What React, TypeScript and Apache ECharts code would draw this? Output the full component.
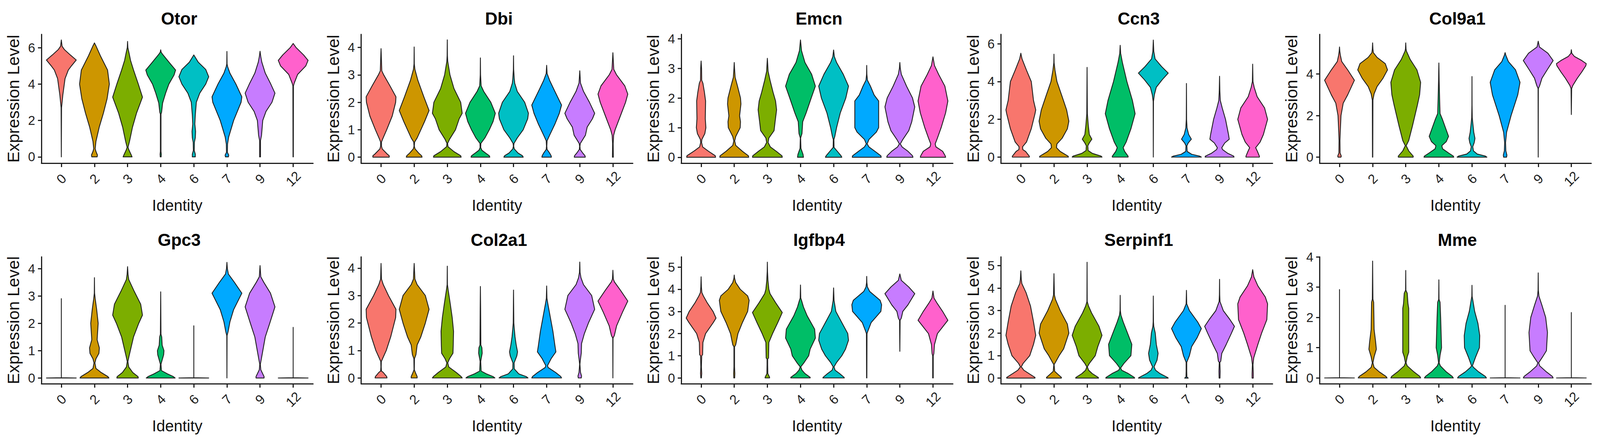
import React, { useEffect, useRef } from 'react';
import * as echarts from 'echarts';

const clusters = ['0', '2', '3', '4', '6', '7', '9', '12'];
const clusterColors = ['#F8766D', '#CD9600', '#7CAE00', '#00BE67', '#00BFC4', '#00A9FF', '#C77CFF', '#FF61CC'];
const clusterIdx = [0, 1, 2, 3, 4, 5, 6, 7];

// each violin: flat list of level, relative half width, bottom to top
const otor = [
  [0,0, 2.7,.015, 3.4,.1, 4,.2, 4.3,.25, 4.77,.47, 5.0,.68, 5.32,1, 5.6,.6, 5.9,.2, 6.08,.05, 6.42,0],
  [0,.18, .1,.2, .3,.1, .45,.05, .85,.1, 1.63,.32, 2.4,.6, 3.2,.85, 4,1, 4.77,.88, 5.55,.4, 6.1,.1, 6.26,0],
  [0,.3, .1,.25, .4,.08, .53,.03, .85,.13, 1.63,.33, 2.4,.6, 3.28,1, 4,.72, 4.77,.4, 5.3,.2, 5.7,.1, 6,.02, 6.34,0],
  [0,.03, .15,.04, .3,.02, 2.35,.02, 2.45,.06, 2.96,.13, 3.5,.33, 4,.55, 4.5,.9, 4.77,1, 5.16,.6, 5.63,.13, 5.75,.03, 5.88,0],
  [0,.1, .15,.1, .35,.03, .8,.04, 1.05,.1, 1.4,.12, 1.8,.07, 2.3,.1, 3,.17, 3.5,.4, 4,.8, 4.4,1, 4.8,.8, 5.2,.3, 5.6,0],
  [0,.1, .1,.12, .25,.03, .7,.04, 1.1,.12, 2,.45, 3,.95, 3.3,1, 4,.6, 4.6,.2, 4.95,.05, 5.1,.01, 5.79,0],
  [0,.03, .9,.03, 1.2,.1, 2,.18, 2.5,.4, 3,.8, 3.5,1, 4,.72, 4.6,.35, 5.2,.12, 5.5,.05, 5.8,0],
  [0,.01, 3.9,.02, 4.05,.07, 4.53,.3, 5,.85, 5.3,1, 5.6,.7, 6,.2, 6.23,0],
];
const dbi = [
  [0,.55, .05,.55, .12,.4, .3,.08, .4,.03, .55,.03, .65,.1, 1,.38, 1.5,.75, 2,.98, 2.2,1, 2.6,.6, 3,.18, 3.15,.05, 3.5,.03, 3.96,0],
  [0,.53, .05,.5, .15,.3, .3,.06, .4,.01, .55,.03, .7,.2, 1,.45, 1.3,.7, 1.7,1, 2.2,.65, 2.8,.25, 3.2,.05, 3.4,.01, 4.02,0],
  [0,.93, .05,.9, .2,.45, .38,.05, .5,.02, .65,.15, 1,.55, 1.4,.8, 1.6,1, 2,.9, 2.5,.45, 3,.18, 3.5,.03, 3.7,.01, 4.28,0],
  [0,.63, .05,.6, .15,.35, .25,.1, .35,.02, .5,.03, .7,.3, 1,.6, 1.3,.85, 1.6,1, 2,.7, 2.4,.22, 2.6,.05, 3,.01, 3.62,0],
  [0,.65, .05,.6, .15,.3, .3,.05, .4,.01, .5,.03, .7,.25, 1,.65, 1.4,.95, 1.6,1, 2,.75, 2.4,.25, 2.7,.08, 2.85,.05, 3.2,.01, 3.7,0],
  [0,.32, .05,.3, .15,.2, .28,.03, .4,.01, .6,.03, .8,.2, 1.2,.55, 1.6,.85, 1.9,1, 2.4,.55, 2.8,.2, 3.05,.03, 3.35,0],
  [0,.37, .05,.35, .15,.2, .28,.03, .4,.01, .5,.04, .8,.38, 1.1,.5, 1.4,.85, 1.6,1, 2,.65, 2.4,.25, 2.7,.05, 3.15,0],
  [0,.03, .5,.02, .8,.05, 1,.15, 1.5,.5, 2,.85, 2.3,1, 2.6,.8, 3,.25, 3.2,.06, 3.5,.03, 3.81,0],
];
const emcn = [
  [0,.97, .05,.95, .2,.5, .35,.1, .5,.03, .6,.05, .8,.25, 1,.32, 1.3,.28, 1.9,.3, 2.2,.22, 2.5,.12, 2.6,.04, 3,.03, 3.25,0],
  [0,.97, .05,.95, .2,.55, .4,.1, .55,.03, .7,.1, 1,.4, 1.2,.42, 1.4,.36, 1.8,.45, 2,.42, 2.4,.22, 2.7,.06, 3,.02, 3.2,0],
  [0,1, .05,.98, .2,.6, .35,.2, .5,.05, .65,.1, .9,.45, 1.2,.52, 1.6,.62, 1.9,.55, 2.2,.38, 2.6,.18, 2.9,.05, 3.34,0],
  [0,.2, .1,.17, .3,.03, .65,.01, .8,.1, 1.2,.15, 1.5,.38, 2,.72, 2.4,1, 2.8,.75, 3.2,.3, 3.6,.07, 3.96,0],
  [0,.55, .05,.5, .2,.25, .33,.03, .6,.02, .7,.08, 1,.2, 1.5,.45, 2,.82, 2.4,1, 2.8,.65, 3.2,.2, 3.4,.05, 3.62,0],
  [0,.97, .05,.95, .2,.55, .35,.15, .45,.03, .6,.15, .85,.65, 1,.8, 1.9,.8, 2.1,.5, 2.4,.25, 2.6,.05, 2.8,.01, 3.1,0],
  [0,.88, .05,.85, .2,.55, .35,.15, .45,.03, .6,.2, .9,.6, 1.2,.8, 1.7,1, 2,.85, 2.4,.45, 2.8,.1, 3,.03, 3.2,0],
  [0,.85, .05,.82, .2,.65, .35,.2, .45,.15, .65,.3, 1,.55, 1.5,.85, 1.9,1, 2.4,.8, 2.8,.38, 3.1,.1, 3.39,0],
];
const ccn3 = [
  [0,.57, .05,.57, .3,.32, .4,.13, .55,.12, .8,.38, 1.5,.7, 2.3,.95, 2.5,1, 3,.85, 4,.7, 4.6,.38, 5.2,.08, 5.5,0],
  [0,.97, .05,.95, .3,.42, .5,.17, .7,.2, 1,.55, 1.5,.9, 1.9,1, 2.5,.85, 3.2,.55, 4,.2, 4.6,.07, 5,.01, 5.45,0],
  [0,1, .05,.95, .2,.35, .35,.07, .6,.05, .75,.15, .95,.32, 1.2,.15, 1.7,.08, 2.3,.02, 4.75,0],
  [0,.53, .05,.53, .3,.3, .5,.2, .8,.4, 1.5,.72, 2.3,1, 3,.82, 4,.45, 5,.15, 5.5,.03, 5.92,0],
  [0,0, 2.95,.01, 3.3,.07, 3.7,.2, 4.1,.6, 4.45,1, 4.8,.55, 5.2,.12, 5.6,.03, 6.2,0],
  [0,1, .05,.9, .15,.35, .3,.05, .6,.03, .75,.12, .95,.33, 1.2,.15, 1.55,.04, 2,.01, 3.9,0],
  [0,.97, .05,.95, .2,.55, .4,.2, .5,.15, .75,.35, .95,.65, 1.2,.6, 2,.4, 2.6,.18, 3,.05, 3.5,.02, 4.28,0],
  [0,.45, .05,.45, .3,.32, .5,.2, .8,.5, 1.2,.72, 2,1, 2.6,.8, 3.2,.3, 3.7,.1, 4,.02, 4.92,0],
];
const col9a1 = [
  [0,.1, .05,.12, .2,.04, .8,.03, 1.2,.05, 2,.1, 2.6,.25, 3,.55, 3.7,1, 4.2,.55, 4.6,.15, 4.9,.06, 5.1,.02, 5.3,0],
  [0,.01, 2.75,.02, 3.05,.1, 3.4,.3, 3.8,.7, 4.2,1, 4.5,.85, 4.8,.3, 5.03,.05, 5.2,.02, 5.5,0],
  [0,.5, .05,.5, .3,.2, .55,.03, .8,.2, 1.5,.45, 2.5,.78, 3,.93, 3.6,1, 4.2,.75, 4.7,.3, 5.1,.05, 5.2,.02, 5.5,0],
  [0,1, .05,.97, .2,.65, .4,.25, .55,.2, .75,.5, 1,.65, 1.4,.45, 1.8,.25, 2.1,.08, 2.8,.05, 3.7,.02, 4.53,0],
  [0,1, .05,.9, .15,.35, .3,.1, .5,.05, .7,.15, .9,.2, 1.2,.12, 1.6,.06, 1.9,.02, 2.5,.005, 3.88,0],
  [0,.1, .1,.12, .3,.05, .7,.03, 1.2,.1, 2,.4, 3,.85, 3.6,1, 4.2,.7, 4.6,.22, 4.9,.05, 5.03,0],
  [0,0, 3.3,.01, 3.45,.1, 3.8,.25, 4.2,.6, 4.65,1, 5,.65, 5.3,.08, 5.58,0],
  [2.05,0, 3.3,.02, 3.45,.1, 3.8,.4, 4.1,.7, 4.4,.97, 4.5,1, 4.65,.7, 4.85,.2, 5,.03, 5.17,0],
];
const gpc3 = [
  [0,1, .01,0, 2.9,0],
  [0,.97, .05,.9, .2,.45, .35,.1, .55,.03, .7,.1, .9,.3, 1.1,.33, 1.4,.18, 2,.25, 2.5,.15, 2.9,.05, 3.1,.01, 3.67,0],
  [0,.72, .05,.7, .2,.35, .4,.08, .6,.02, .8,.1, 1.5,.4, 2,.75, 2.3,1, 2.7,.88, 3.2,.42, 3.6,.08, 3.8,.03, 4.07,0],
  [0,.97, .05,.85, .15,.45, .27,.05, .5,.02, .6,.07, .85,.2, 1,.22, 1.2,.1, 1.5,.07, 1.6,.02, 3.15,0],
  [0,1, .01,0, 1.91,0],
  [0,0, 1.55,.01, 1.7,.08, 2.05,.2, 2.5,.45, 3.1,1, 3.5,.5, 3.8,.1, 4,.03, 4.23,0],
  [0,.27, .05,.27, .3,.05, .5,.02, .8,.12, 1.5,.35, 2,.65, 2.6,1, 3.1,.7, 3.5,.25, 3.7,.05, 4.11,0],
  [0,1, .01,0, 1.85,0],
];
const col2a1 = [
  [0,.4, .05,.38, .2,.15, .25,.03, .4,.01, .6,.02, .7,.1, 1,.35, 1.5,.65, 2.2,.98, 2.5,1, 3,.5, 3.4,.15, 3.6,.03, 4.17,0],
  [0,.2, .05,.2, .2,.08, .3,.01, .7,.02, .85,.12, 1.2,.2, 1.5,.45, 2,.75, 2.5,1, 3,.75, 3.4,.2, 3.6,.05, 4.17,0],
  [0,1, .05,.93, .2,.6, .4,.1, .55,.03, .7,.15, .9,.38, 1.2,.4, 1.7,.42, 2.2,.33, 2.7,.2, 3.2,.06, 3.4,.01, 4.07,0],
  [0,.97, .05,.85, .15,.4, .25,.05, .6,.02, .7,.05, .9,.12, 1.1,.1, 1.2,.03, 2.5,.015, 3.33,0],
  [0,.97, .05,.85, .15,.35, .33,.05, .55,.04, .8,.22, .95,.27, 1.2,.18, 1.5,.1, 1.8,.05, 2,.02, 3.2,0],
  [0,1, .05,.95, .2,.6, .38,.1, .45,.06, .7,.3, .95,.62, 1.2,.55, 1.7,.42, 2.2,.25, 2.7,.08, 2.9,.02, 3.35,0],
  [0,.1, .07,.12, .2,.05, .5,.01, .7,.05, .9,.1, 1.25,.12, 1.6,.3, 2,.58, 2.5,1, 3,.8, 3.4,.25, 3.65,.08, 3.85,.02, 4.22,0],
  [0,0, 1.45,.01, 1.55,.1, 1.9,.25, 2.4,.65, 2.8,1, 3.2,.5, 3.5,.1, 3.6,.03, 3.92,0],
];
const igfbp4 = [
  [0,.02, .2,.04, .5,.02, 1,.04, 1.05,.1, 1.6,.12, 2,.3, 2.5,.82, 2.7,1, 3,.8, 3.4,.4, 3.7,.15, 3.85,.05, 4.1,.02, 4.56,0],
  [0,.03, .2,.04, .5,.02, 1.4,.02, 1.5,.1, 2,.25, 2.5,.55, 3,.9, 3.5,1, 3.7,.9, 4,.4, 4.3,.1, 4.5,.02, 4.64,0],
  [0,.15, .03,.15, .2,.03, .6,.02, .85,.02, .9,.08, 1.6,.1, 2,.35, 2.5,.7, 2.95,1, 3.4,.55, 3.8,.18, 4,.1, 4.4,.04, 4.8,.01, 5.22,0],
  [0,.65, .03,.65, .2,.3, .35,.1, .5,.02, .7,.25, 1,.55, 1.3,.65, 1.8,1, 2.2,.95, 2.8,.45, 3.2,.2, 3.5,.07, 3.6,.02, 4.19,0],
  [0,.72, .03,.7, .2,.4, .35,.1, .5,.03, .7,.2, 1,.55, 1.3,.8, 1.7,1, 2,.95, 2.5,.55, 3,.15, 3.5,.03, 4.06,0],
  [0,.01, 2,.02, 2.1,.07, 2.5,.3, 3,.95, 3.3,1, 3.5,.9, 3.9,.2, 4.1,.05, 4.3,.01, 4.58,0],
  [1.2,0, 2.6,.02, 2.7,.1, 3,.2, 3.3,.55, 3.8,1, 4.1,.6, 4.4,.1, 4.69,0],
  [0,.02, 1,.02, 1.1,.06, 1.5,.1, 2,.3, 2.6,1, 3,.65, 3.4,.25, 3.6,.07, 3.92,0],
];
const serpinf1 = [
  [0,.95, .03,.95, .2,.55, .35,.2, .5,.03, .65,.15, 1,.6, 1.5,.85, 1.9,1, 2.5,.85, 3.2,.65, 3.8,.35, 4.2,.07, 4.4,.03, 4.77,0],
  [0,.5, .03,.5, .15,.3, .3,.05, .6,.01, .7,.1, 1,.35, 1.3,.65, 2,1, 2.4,.9, 3,.42, 3.5,.1, 3.7,.03, 4.64,0],
  [0,.77, .03,.75, .2,.35, .35,.1, .5,.02, .65,.15, 1,.55, 1.4,.72, 1.9,1, 2.3,.8, 2.9,.3, 3.2,.1, 3.4,.01, 5.15,0],
  [0,.97, .03,.95, .2,.55, .35,.1, .45,.03, .65,.25, 1,.72, 1.5,.78, 1.9,.55, 2.5,.2, 2.8,.05, 3,.01, 3.68,0],
  [0,1, .03,.95, .2,.45, .35,.15, .5,.05, .8,.25, 1.1,.32, 1.5,.2, 2,.13, 2.3,.03, 2.5,.01, 3.65,0],
  [0,.12, .05,.03, .3,.02, .7,.02, .75,.05, 1,.2, 1.4,.35, 1.8,.72, 2.2,1, 2.5,.75, 3,.2, 3.3,.02, 3.9,0],
  [0,.03, .3,.04, .7,.02, .75,.08, 1.1,.15, 1.5,.45, 2,.8, 2.3,1, 2.6,.7, 3,.25, 3.4,.03, 3.7,.01, 4.39,0],
  [0,.04, .2,.04, .6,.02, .9,.07, 1.5,.35, 2,.6, 2.6,.95, 3.3,1, 3.6,.85, 4.1,.35, 4.5,.08, 4.82,0],
];
const mme = [
  [0,1, .01,0, 2.92,0],
  [0,.97, .05,.9, .2,.45, .35,.1, .5,.02, .7,.1, .95,.25, 1.2,.2, 1.6,.1, 2.5,.07, 2.6,.02, 3.86,0],
  [0,1, .05,.95, .2,.55, .4,.1, .5,.02, .7,.1, .85,.2, 1.5,.2, 2.3,.2, 2.45,.15, 2.8,.1, 2.9,.01, 3.55,0],
  [0,.97, .05,.9, .2,.5, .4,.1, .5,.02, .75,.08, 1,.18, 1.5,.15, 2,.12, 2.5,.08, 2.6,.01, 3.24,0],
  [0,.97, .05,.9, .2,.45, .35,.1, .4,.03, .7,.25, 1,.5, 1.4,.52, 1.8,.4, 2.2,.18, 2.5,.08, 2.7,.01, 3.06,0],
  [0,1, .01,0, 2.4,0],
  [0,1, .05,.95, .2,.55, .4,.1, .5,.03, .7,.3, .9,.55, 1.5,.62, 2,.5, 2.4,.25, 2.7,.05, 2.9,.01, 3.47,0],
  [0,1, .01,0, 2.16,0],
];

const genes = ['Otor', 'Dbi', 'Emcn', 'Ccn3', 'Col9a1', 'Gpc3', 'Col2a1', 'Igfbp4', 'Serpinf1', 'Mme'];
const violins = [otor, dbi, emcn, ccn3, col9a1, gpc3, col2a1, igfbp4, serpinf1, mme];
const yMins = [-0.345, -0.22, -0.2, -0.32, -0.29, -0.21, -0.21, -0.26, -0.25, -0.19];
const yMaxs = [6.73, 4.48, 4.15, 6.5, 5.91, 4.43, 4.41, 5.46, 5.39, 4.0];
const yTicks = [
  [0, 2, 4, 6], [0, 1, 2, 3, 4], [0, 1, 2, 3, 4], [0, 2, 4, 6], [0, 2, 4],
  [0, 1, 2, 3, 4], [0, 1, 2, 3, 4], [0, 1, 2, 3, 4, 5], [0, 1, 2, 3, 4, 5], [0, 1, 2, 3, 4],
];

// layout in the reference's 4554 wide pixels; the browser window can be narrower
const gridLefts = [118, 1028, 1939, 2849, 3756];
const gridWidth = 773;
const rowTops = [88, 658];
const rowHeights = [330, 325];
const titleTops = [20, 587];
const ink = '#1f1f1f';
const font = '"Liberation Sans", Arial, sans-serif';

const makeRenderItem = (panel: number[][]) => (_: any, api: any) => {
  const i = api.value(0);
  const half = api.size([1, 0])[0] * 0.45;
  const center = api.coord([i, 0])[0];
  const flat = panel[i];
  const left: number[][] = [];
  const right: number[][] = [];
  for (let k = 0; k < flat.length; k += 2) {
    const py = api.coord([i, flat[k]])[1];
    left.push([center - flat[k + 1] * half, py]);
    right.unshift([center + flat[k + 1] * half, py]);
  }
  return {
    type: 'polygon',
    shape: { points: left.concat(right) },
    style: { fill: clusterColors[i], stroke: ink, lineWidth: 2.2, lineJoin: 'round' },
  };
};

const App: React.FC = () => {
  const ref = useRef<HTMLDivElement>(null);
  const pageWidth = Math.min(window.innerWidth, 4554);
  const sx = pageWidth / 4554;

  useEffect(() => {
    if (!ref.current) return;
    const chart = echarts.init(ref.current, undefined, { renderer: 'svg' });

    const place = (p: number) => ({ col: p % 5, row: Math.floor(p / 5) });
    chart.setOption({
      animation: false,
      backgroundColor: '#fff',
      title: genes.map((g, p) => ({
        text: g,
        left: (gridLefts[place(p).col] + gridWidth / 2) * sx,
        top: titleTops[place(p).row],
        textAlign: 'center',
        textStyle: { fontFamily: font, fontSize: 44, fontWeight: 'bold', color: '#000' },
      })),
      grid: genes.map((_, p) => ({
        left: gridLefts[place(p).col] * sx,
        top: rowTops[place(p).row],
        width: gridWidth * sx,
        height: rowHeights[place(p).row],
      })),
      xAxis: genes.map((_, p) => ({
        type: 'value',
        gridIndex: p,
        min: -0.6,
        max: 7.6,
        name: 'Identity',
        nameLocation: 'middle',
        nameGap: 108,
        nameTextStyle: { fontFamily: font, fontSize: 40, color: '#111', verticalAlign: 'middle' },
        splitLine: { show: false },
        axisLine: { onZero: false, lineStyle: { color: ink, width: 3 } },
        axisTick: { length: 10, customValues: clusterIdx, lineStyle: { color: ink, width: 3 } },
        axisLabel: {
          customValues: clusterIdx,
          formatter: (v: number) => clusters[v],
          rotate: 45,
          align: 'center',
          verticalAlign: 'middle',
          margin: 40,
          fontFamily: font,
          fontSize: 34,
          color: '#222',
        },
      })),
      yAxis: genes.map((_, p) => ({
        type: 'value',
        gridIndex: p,
        min: yMins[p],
        max: yMaxs[p],
        name: 'Expression Level',
        nameLocation: 'middle',
        nameGap: 80 * sx,
        nameTextStyle: { fontFamily: font, fontSize: 43, color: '#111', verticalAlign: 'middle' },
        splitLine: { show: false },
        axisLine: { show: true, onZero: false, lineStyle: { color: ink, width: 3 } },
        axisTick: { show: true, length: 9, customValues: yTicks[p], lineStyle: { color: ink, width: 3 } },
        axisLabel: { customValues: yTicks[p], margin: 16, fontFamily: font, fontSize: 33, color: '#222' },
      })),
      series: genes.map((_, p) => ({
        type: 'custom',
        xAxisIndex: p,
        yAxisIndex: p,
        silent: true,
        clip: false,
        data: clusterIdx.map(i => [i, 0]),
        renderItem: makeRenderItem(violins[p]),
      })),
    });

    return () => { chart.dispose(); };
  }, []);

  return <div ref={ref} style={{ position: 'absolute', left: 0, top: 0, width: pageWidth, height: 1140 }} />;
};

export default App;
